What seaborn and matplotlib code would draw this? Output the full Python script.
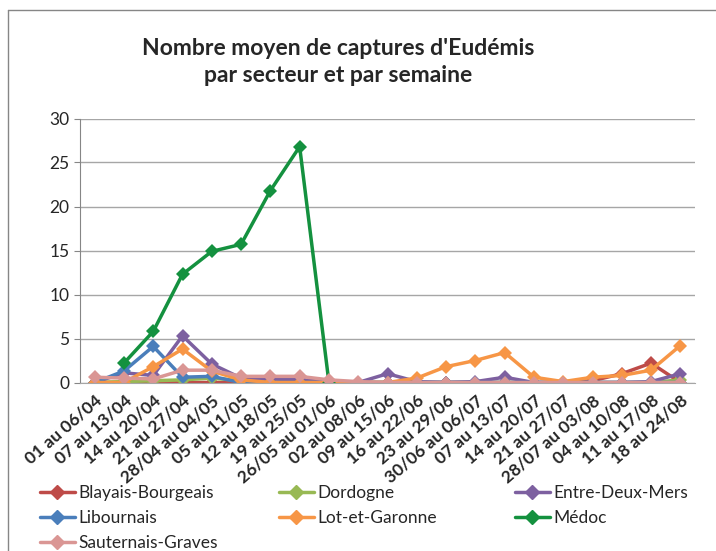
import numpy as np
import pandas as pd
import matplotlib
matplotlib.use("Agg")
import matplotlib.pyplot as plt
from matplotlib.lines import Line2D
import seaborn as sns

weeks = ["01 au 06/04", "07 au 13/04", "14 au 20/04", "21 au 27/04", "28/04 au 04/05",
         "05 au 11/05", "12 au 18/05", "19 au 25/05", "26/05 au 01/06", "02 au 08/06",
         "09 au 15/06", "16 au 22/06", "23 au 29/06", "30/06 au 06/07", "07 au 13/07",
         "14 au 20/07", "21 au 27/07", "28/07 au 03/08", "04 au 10/08", "11 au 17/08",
         "18 au 24/08"]

blayais = [0, 0, 0, 0, 0, 0, 0, 0, 0, 0, 0, 0, 0, 0, 0, 0, 0, 0.2, 1.0, 2.2, 0]
dordogne = [0, 0.1, 0.2, 0.3, 0.5, 0.2, 0, 0, 0, 0, 0, 0, 0, 0, 0, 0, 0, 0, 0, 0, 0.3]
entre_deux_mers = [0, 1.1, 0.8, 5.3, 2.1, 0.5, 0.4, 0.3, 0.1, 0, 1.0, 0.1, 0, 0.1, 0.6,
                   0, 0, 0, 0, 0.1, 1.0]
libournais = [0, 1.3, 4.1, 0.6, 0.7, 0, 0, 0, 0, 0, 0, 0, 0, 0, 0, 0, 0, 0, 0, 0, 0]
lot_et_garonne = [0, 0, 1.8, 3.8, 1.3, 0.3, 0, 0, 0, 0, 0, 0.5, 1.8, 2.5, 3.4, 0.6, 0.1,
                  0.6, 0.8, 1.4, 4.2]
medoc = [np.nan, 2.2, 5.8, 12.3, 14.9, 15.7, 21.8, 26.8, 0] + [np.nan] * 12
sauternais = [0.6, 0.5, 0.4, 1.4, 1.4, 0.7, 0.7, 0.7, 0.3, 0.1, 0, 0, 0, 0, 0, 0, 0, 0,
              0, 0, 0]

sectors = ["Blayais-Bourgeais", "Dordogne", "Entre-Deux-Mers", "Libournais",
           "Lot-et-Garonne", "Médoc", "Sauternais-Graves"]
colors = ["#BE4B48", "#98B954", "#7D60A0", "#4A7EBB", "#F79646", "#14913F", "#DA9694"]

series = [blayais, dordogne, entre_deux_mers, libournais, lot_et_garonne, medoc, sauternais]
frames = []
for name, vals in zip(sectors, series):
    frames.append(pd.DataFrame({"semaine": range(len(weeks)), "captures": vals, "secteur": name}))
df = pd.concat(frames).dropna()

sns.set_style("white")
plt.rcParams["font.family"] = ["Lato", "DejaVu Sans"]

fig = plt.figure(figsize=(7.16, 5.51), dpi=100)
ax = fig.add_axes([80 / 716, 168.5 / 551, 615 / 716, 264 / 551])

sns.lineplot(data=df, x="semaine", y="captures", hue="secteur", hue_order=sectors,
             palette=colors, marker="D", markersize=7, markeredgewidth=0, linewidth=2.5,
             legend=False, ax=ax)

ax.set_xlim(-0.5, len(weeks) - 0.5)
ax.set_ylim(0, 30)
ax.set_yticks(range(0, 31, 5))
ax.set_xticks(range(len(weeks)))
ax.set_xticklabels(weeks, rotation=41, ha="right", rotation_mode="anchor",
                   fontweight="bold", fontsize=12.5)
ax.tick_params(axis="y", labelsize=12.5, length=4, color="#868686", direction="out", left=True)
ax.tick_params(axis="x", length=0, pad=7)
ax.set_xlabel("")
ax.set_ylabel("")
ax.yaxis.grid(True, color="#A6A6A6", linewidth=1)
ax.set_axisbelow(True)
for s in ["top", "right"]:
    ax.spines[s].set_visible(False)
ax.spines["left"].set_color("#868686")
ax.spines["bottom"].set_color("#A6A6A6")

fig.text(338 / 716, 1 - 62 / 551, "Nombre moyen de captures d'Eudémis\npar secteur et par semaine",
         ha="center", va="center", fontsize=16.5, fontweight="bold", linespacing=1.3)

# legend: three columns placed like the original
def handle(i):
    return Line2D([], [], color=colors[i], marker="D", markersize=7, lw=2.5)

cols = [([0, 3, 6], 40), ([1, 4], 279), ([2, 5], 515)]
for idx, xpix in cols:
    fig.legend([handle(i) for i in idx], [sectors[i] for i in idx],
               loc="upper left", bbox_to_anchor=(xpix / 716, 1 - 485 / 551),
               frameon=False, fontsize=12.5, handlelength=2.0, handletextpad=0.2,
               labelspacing=0.52, borderaxespad=0, borderpad=0)

# chart area border
fig.add_artist(plt.Line2D([8 / 716, 8 / 716], [0, 1 - 10 / 551], color="#868686", lw=1,
                          transform=fig.transFigure))
fig.add_artist(plt.Line2D([8 / 716, 1], [1 - 10 / 551, 1 - 10 / 551], color="#868686", lw=1,
                          transform=fig.transFigure))

fig.savefig("out.png", dpi=100)
